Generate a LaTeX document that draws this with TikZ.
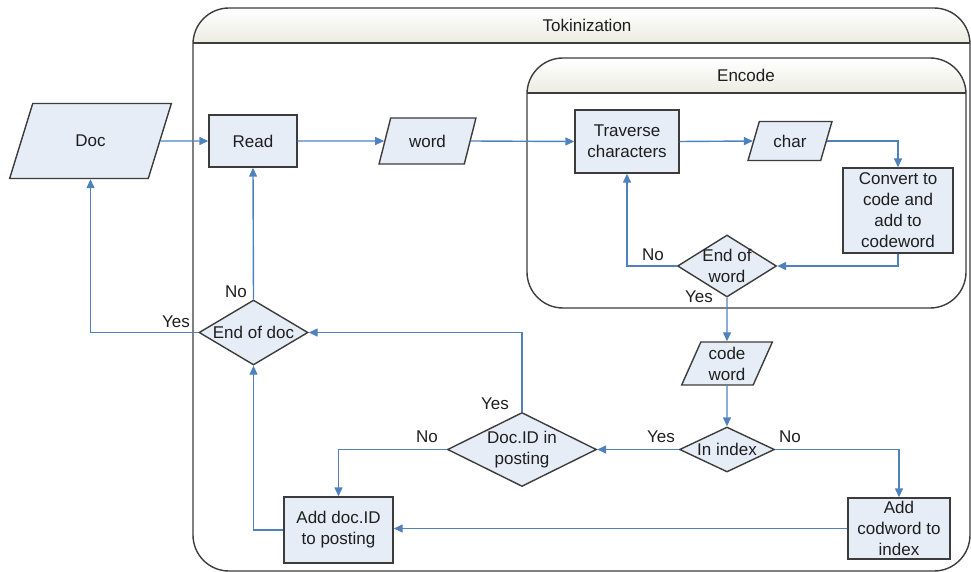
\documentclass[tikz,border=0pt]{standalone}
\usepackage{fontspec}
\setmainfont{Liberation Sans}
\usetikzlibrary{shapes.geometric,arrows.meta}
\definecolor{linkblue}{HTML}{4F81BD}
\definecolor{boxfill}{HTML}{E7EDF7}
\definecolor{boxedge}{HTML}{3C3C3C}
\definecolor{hdr}{HTML}{ECECE2}
\definecolor{txt}{HTML}{1E1E1E}
\tikzset{
  base/.style={draw=boxedge, line width=1.4pt, fill=boxfill, text=txt, inner sep=0pt, align=center,
    font=\fontsize{17}{21}\selectfont},
  proc/.style={base, rectangle},
  io/.style={base, trapezium, trapezium stretches=true},
  dia/.style={base, diamond},
  dtext/.style={text=txt, align=center, font=\fontsize{17}{21}\selectfont, inner sep=0pt},
  lbl/.style={text=txt, font=\fontsize{17}{21}\selectfont, inner sep=0pt},
  arr/.style={draw=linkblue, line width=1.4pt, -{Triangle[length=9pt,width=8pt]}},
  frame/.style={draw=boxedge, line width=1.4pt},
}
\begin{document}
\begin{tikzpicture}[x=1pt,y=-1pt]
\useasboundingbox (0,0) rectangle (971,572);
% Tokinization frame
\begin{scope}
  \clip[rounded corners=36] (193,8) rectangle (970,571);
  \shade[top color=white, bottom color=hdr] (193,8) rectangle (970,43);
\end{scope}
\draw[frame, rounded corners=36] (193,8) rectangle (970,571);
\draw[frame] (193,43) -- (970,43);
\node[lbl] (toktitle) at (587,25) {Tokinization};
% Encode frame
\begin{scope}
  \clip[rounded corners=36] (527,58) rectangle (966,308);
  \shade[top color=white, bottom color=hdr] (527,58) rectangle (966,93);
\end{scope}
\draw[frame, rounded corners=36] (527,58) rectangle (966,308);
\draw[frame] (527,93) -- (966,93);
\node[lbl] (enctitle) at (746,75) {Encode};

% nodes
\node[io, trapezium left angle=63, trapezium right angle=117, minimum width=162, minimum height=75] (doc) at (90.5,141) {Doc};
\node[proc, minimum width=88, minimum height=52] (read) at (253,141) {Read};
\node[io, trapezium left angle=65, trapezium right angle=115, minimum width=97, minimum height=46] (word) at (427.5,141) {word};
\node[proc, minimum width=104, minimum height=63] (trav) at (627,141.5) {Traverse\\characters};
\node[io, trapezium left angle=64, trapezium right angle=116, minimum width=84, minimum height=39] (char) at (790,141) {char};
\node[proc, minimum width=110, minimum height=85] (conv) at (898,210.5) {Convert to\\code and\\add to\\codeword};
\node[dia, minimum width=99, minimum height=62] (endw) at (727,266) {};
\node[dtext] (endwt) at (endw.center) {End of\\word};
\node[io, trapezium left angle=68, trapezium right angle=112, minimum width=91, minimum height=43] (cw) at (727,363.5) {code\\word};
\node[dia, minimum width=95, minimum height=45] (inidx) at (727,449.5) {};
\node[dtext] (inidxt) at (inidx.center) {In index};
\node[dia, minimum width=149, minimum height=74] (docid) at (522,449.5) {};
\node[dtext] (docidt) at (docid.center) {Doc.ID in\\posting};
\node[proc, minimum width=102, minimum height=61] (addcw) at (899,528.5) {Add\\codword to\\index};
\node[proc, minimum width=109, minimum height=66] (adddoc) at (338.5,530) {Add doc.ID\\to posting};
\node[dia, minimum width=109, minimum height=65] (enddoc) at (253.5,332.5) {};
\node[dtext] (enddoct) at (enddoc.center) {End of doc};

% connectors
\draw[arr] (doc.east) -- (read.west);
\draw[arr] (read.east) -- (word.west);
\draw[arr] (word.east) -- (trav.west);
\draw[arr] (trav.east) -- (char.west);
\draw[arr] (char.east) -| (conv.north);
\draw[arr] (conv.south) |- (endw.east);
\draw[arr] (endw.west) -| (trav.south);
\draw[arr] (endw.south) -- (cw.north);
\draw[arr] (cw.south) -- (inidx.north);
\draw[arr] (inidx.west) -- (docid.east);
\draw[arr] (inidx.east) -| (addcw.north);
\draw[arr] (addcw.west) -- (adddoc.east |- addcw.west);
\draw[arr] (docid.west) -| (adddoc.north);
\draw[arr] (docid.north) |- (enddoc.east);
\draw[arr] (adddoc.west) -| (enddoc.south);
\draw[arr] (enddoc.north) -- (read.south);
\draw[arr] (enddoc.west) -| (doc.south);

% labels
\node[lbl] (l1) at (236,292) {No};
\node[lbl] (l2) at (176,322) {Yes};
\node[lbl] (l3) at (653,255) {No};
\node[lbl] (l4) at (699,297) {Yes};
\node[lbl] (l5) at (495,404) {Yes};
\node[lbl] (l6) at (427,437) {No};
\node[lbl] (l7) at (661,437) {Yes};
\node[lbl] (l8) at (790,437) {No};
\end{tikzpicture}
\end{document}
